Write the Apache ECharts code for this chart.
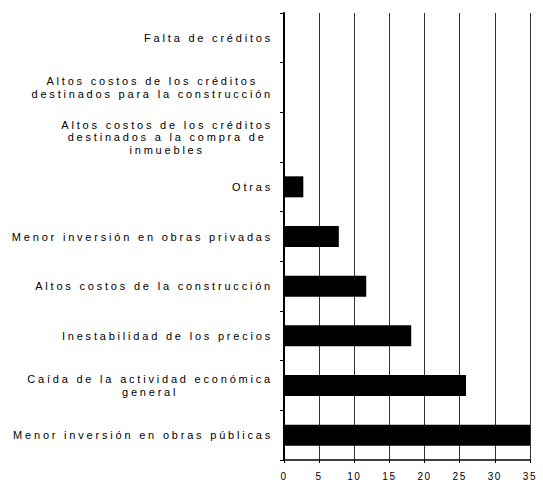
<!DOCTYPE html>
<html>
<head>
<meta charset="utf-8">
<script src="https://cdn.jsdelivr.net/npm/echarts@6/dist/echarts.min.js"></script>
<style>
html,body{margin:0;padding:0;background:#fff;}
#chart{width:543px;height:483px;}
#chart text{letter-spacing:2.8px;}
#chart text[style*="10px"]{letter-spacing:1.6px;}
</style>
</head>
<body>
<div id="chart"></div>
<script>
// Categories listed from bottom to top
const categories = [
  "Menor inversión en obras públicas",
  "Caída de la actividad económica\ngeneral",
  "Inestabilidad de los precios",
  "Altos costos de la construcción",
  "Menor inversión en obras privadas",
  "Otras",
  "Altos costos de los créditos\ndestinados a la compra de\ninmuebles",
  "Altos costos de los créditos\ndestinados para la construcción",
  "Falta de créditos"
];
const values = [35, 25.9, 18.1, 11.7, 7.8, 2.75, 0, 0, 0];
const xTicks = [0, 5, 10, 15, 20, 25, 30, 35];

// letter spacing per font size (the reference text is widely tracked)
function spacingFor(font) {
  const m = /(\d+(?:\.\d+)?)px/.exec(font || '');
  const size = m ? parseFloat(m[1]) : 12;
  return size <= 10 ? 1.6 : 2.8;
}
const mctx = document.createElement('canvas').getContext('2d');
if (echarts.setPlatformAPI) {
  echarts.setPlatformAPI({
    measureText: function (text, font) {
      mctx.font = font || '12px sans-serif';
      const w = mctx.measureText(text).width;
      return {width: w + String(text).length * spacingFor(mctx.font)};
    }
  });
}

const FONT = 'Liberation Sans, Arial, sans-serif';

const chart = echarts.init(document.getElementById('chart'), null, {renderer: 'svg'});
chart.setOption({
  animation: false,
  backgroundColor: '#ffffff',
  grid: {left: 284, right: 13, top: 13, bottom: 23, containLabel: false},
  xAxis: {
    type: 'value',
    min: xTicks[0],
    max: xTicks[xTicks.length - 1],
    interval: 5,
    axisLine: {show: true, lineStyle: {color: '#000', width: 1.5}},
    axisTick: {show: true, length: 3, lineStyle: {color: '#000'}},
    axisLabel: {color: '#000', fontFamily: FONT, fontSize: 10, margin: 11},
    splitLine: {show: true, lineStyle: {color: '#333', width: 1}}
  },
  yAxis: {
    type: 'category',
    data: categories,
    axisLine: {show: true, lineStyle: {color: '#000', width: 2}},
    axisTick: {show: true, length: 4, inside: false, alignWithLabel: false, lineStyle: {color: '#000'}},
    axisLabel: {
      color: '#000',
      fontFamily: FONT,
      fontSize: 11,
      lineHeight: 12.5,
      margin: 11,
      align: 'right',
      interval: 0,
      formatter: function (v) {
        return String(v).split('\n').map(function (s) { return '{c|' + s + '}'; }).join('\n');
      },
      rich: {
        c: {align: 'center', color: '#000', fontFamily: FONT, fontSize: 11, lineHeight: 12.5}
      }
    },
    splitLine: {show: false}
  },
  series: [{
    type: 'bar',
    data: values,
    barWidth: 21,
    itemStyle: {color: '#000'},
    silent: true
  }]
});
</script>
</body>
</html>
